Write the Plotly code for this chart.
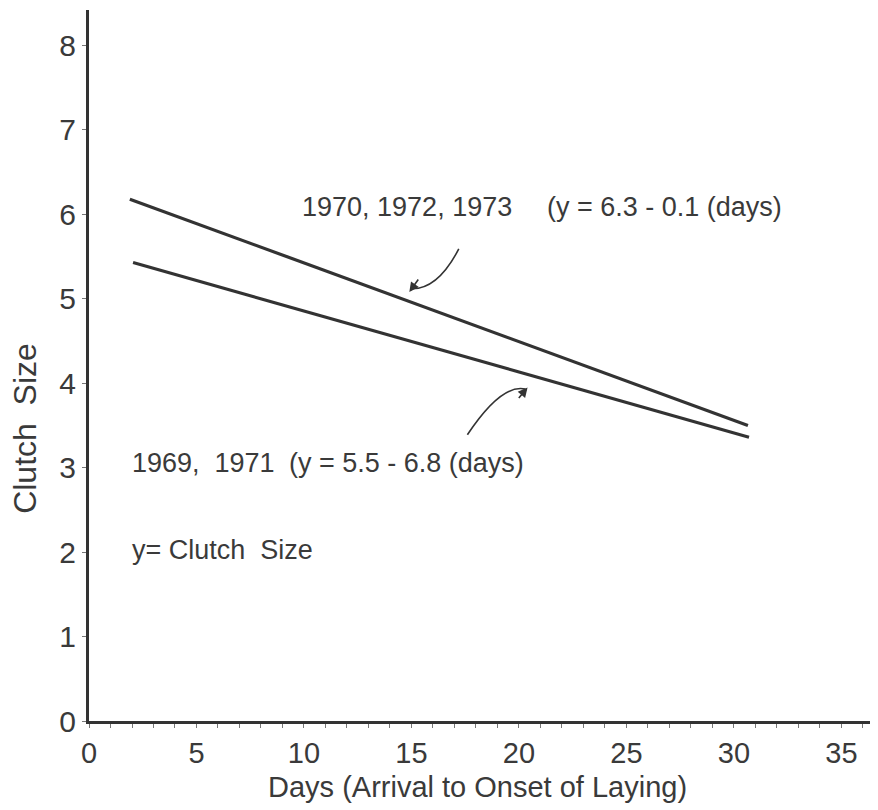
import plotly.graph_objects as go

# Regression lines
upper_days = [1.9, 30.65]
upper_clutch = [6.18, 3.50]
lower_days = [2.05, 30.7]
lower_clutch = [5.43, 3.36]

x_ticks = [0, 5, 10, 15, 20, 25, 30, 35]
y_ticks = [0, 1, 2, 3, 4, 5, 6, 7, 8]

FONT = "Liberation Sans"
TXT = "#3a3a3a"
LINE = "#333333"

fig = go.Figure()
fig.add_trace(go.Scatter(x=upper_days, y=upper_clutch, mode="lines",
                         line=dict(color=LINE, width=3.2), showlegend=False))
fig.add_trace(go.Scatter(x=lower_days, y=lower_clutch, mode="lines",
                         line=dict(color=LINE, width=3.2), showlegend=False))

ann_font = dict(family=FONT, size=27, color=TXT)
texts = [
    (9.8, 6.09, "1970, 1972, 1973"),
    (21.2, 6.09, "(y = 6.3 - 0.1 (days)"),
    (1.9, 3.06, "1969,  1971"),
    (9.2, 3.06, "(y = 5.5 - 6.8 (days)"),
    (1.9, 2.03, "y= Clutch  Size"),
]
for x, y, t in texts:
    fig.add_annotation(x=x, y=y, text=t, showarrow=False, xanchor="left",
                       yanchor="middle", font=ann_font)

# axis titles
fig.add_annotation(x=-0.081, y=0.411, xref="paper", yref="paper",
                   text="Clutch  Size", textangle=-90, showarrow=False,
                   xanchor="center", yanchor="middle",
                   font=dict(family=FONT, size=32, color=TXT))
fig.add_annotation(x=0.493, y=-0.093, xref="paper", yref="paper",
                   text="Days (Arrival to Onset of Laying)", showarrow=False,
                   xanchor="center", yanchor="middle",
                   font=dict(family=FONT, size=29, color=TXT))

# curved leader arrows
fig.add_shape(type="path",
              path="M 17.2 5.59 Q 16.2 5.10 14.95 5.12",
              line=dict(color=LINE, width=1.6), xref="x", yref="y")
fig.add_annotation(x=14.9, y=5.08, ax=10, ay=-14, text="", showarrow=True,
                   arrowhead=2, arrowsize=1.2, arrowwidth=1.6, arrowcolor=LINE)
fig.add_shape(type="path",
              path="M 17.6 3.39 Q 19.2 4.00 20.3 3.93",
              line=dict(color=LINE, width=1.6), xref="x", yref="y")
fig.add_annotation(x=20.4, y=3.95, ax=-10, ay=12, text="", showarrow=True,
                   arrowhead=2, arrowsize=1.2, arrowwidth=1.6, arrowcolor=LINE)

# the page body adds an 8px offset; compensate so the plot lands where the reference has it
fig.update_layout(
    width=870, height=802,
    margin=dict(l=81, r=0, t=2, b=89),
    paper_bgcolor="white", plot_bgcolor="white",
    font=dict(family=FONT, color=TXT),
)
fig.update_xaxes(
    range=[0, 36.7], tickvals=x_ticks, ticktext=[str(v) for v in x_ticks],
    automargin=False,
    showgrid=False, zeroline=False, showline=True, linecolor=LINE, linewidth=3,
    ticks="outside", ticklen=4, tickcolor="#777", tickwidth=1,
    minor=dict(dtick=1, ticks="outside", ticklen=4, tickcolor="#777", tickwidth=1),
    tickfont=dict(family=FONT, size=29, color=TXT),
)
fig.update_yaxes(
    range=[0, 8.42], tickvals=y_ticks, ticktext=[str(v) for v in y_ticks],
    automargin=False,
    showgrid=False, zeroline=False, showline=True, linecolor=LINE, linewidth=3,
    ticks="outside", ticklen=4, tickcolor="#777", tickwidth=1,
    tickfont=dict(family=FONT, size=30, color=TXT),
)

fig.write_html("out.html")
